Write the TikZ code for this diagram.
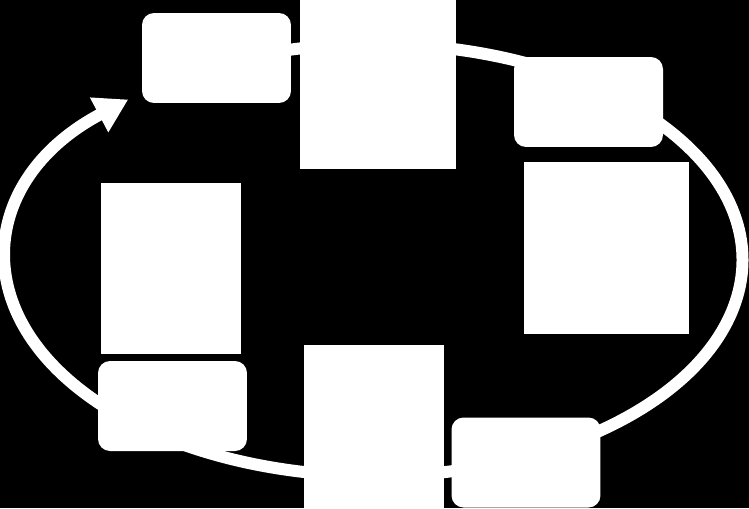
\documentclass[tikz,border=0pt]{standalone}
\usepackage{tikz}
\usetikzlibrary{arrows.meta}
\tikzset{
    stage/.style={fill=white, rounded corners=0.24cm, inner sep=0pt, outer sep=0pt,
        minimum width=2.98cm, minimum height=1.8cm},
    panel/.style={fill=white, inner sep=0pt, outer sep=0pt},
}
\begin{document}
\begin{tikzpicture}[x=0.02cm,y=-0.02cm]
    \useasboundingbox[fill=black] (0,0) rectangle (749,508);
    %% cycle
    \coordinate (mid) at (374.5,260);
    \draw[white, line width=0.24cm, -{Triangle[length=0.66cm,width=0.74cm]}]
    (mid) ++(-128:368 and 216) arc[start angle=-128, end angle=228, x radius=368, y radius=216];
    %% panels
    \node[panel, minimum width=3.12cm, minimum height=3.38cm] (top) at (378,84.5) {};
    \node[panel, minimum width=3.3cm, minimum height=3.44cm] (right) at (606.5,248) {};
    \node[panel, minimum width=2.8cm, minimum height=3.42cm] (left) at (171,268.5) {};
    \node[panel, minimum width=2.8cm, minimum height=3.26cm] (bottom) at (374,426.5) {};
    %% stages
    \node[stage] (s1) at (216.5,58) {};
    \node[stage] (s2) at (588.5,102) {};
    \node[stage] (s3) at (526,462.5) {};
    \node[stage] (s4) at (172.5,406) {};
\end{tikzpicture}
\end{document}
